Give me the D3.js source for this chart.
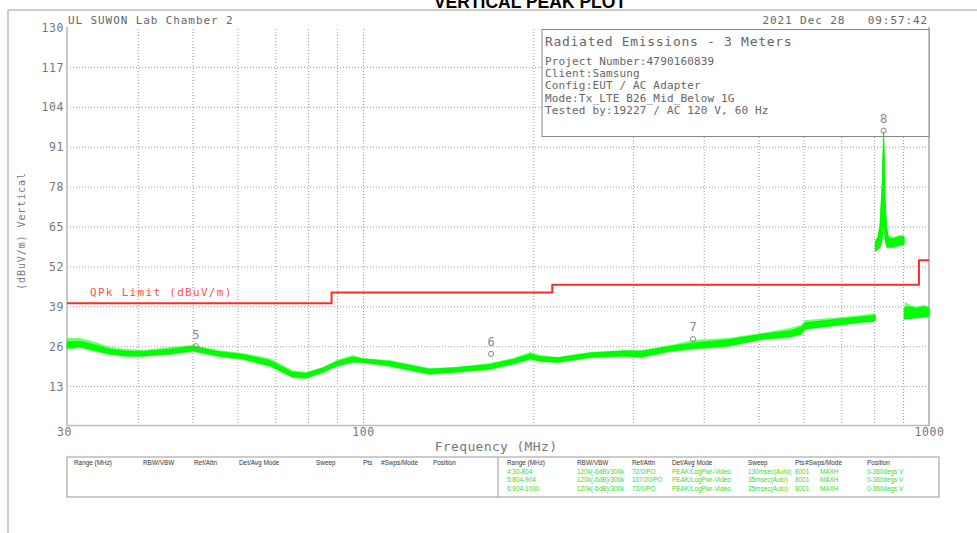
<!DOCTYPE html>
<html><head><meta charset="utf-8">
<script src="https://cdn.jsdelivr.net/npm/d3@7"></script>
<style>
body{margin:0;background:#fff;}
svg{display:block;}
.mono{font-family:"DejaVu Sans Mono","Liberation Mono",monospace;}
.tiny{font-family:"Liberation Sans",Arial,sans-serif;font-size:8px;}
</style></head><body>
<svg id="chart" width="977" height="533"></svg>
<script>
// ---------------- data ----------------
const chartTitle = "VERTICAL PEAK PLOT";
const siteLabel = "UL SUWON Lab Chamber 2";
const dateLabel = "2021 Dec 28   09:57:42";
const infoTitle = "Radiated Emissions - 3 Meters";
const infoLines = ["Project Number:4790160839","Client:Samsung","Config:EUT / AC Adapter","Mode:Tx_LTE B26_Mid_Below 1G","Tested by:19227 / AC 120 V, 60 Hz"];
const yTicks = [13,26,39,52,65,78,91,104,117,130];
const xTickLabels = [30,100,1000];
const xGrid = [40,50,60,70,80,90,100,200,300,400,500,600,700,800,900];
const yLabel = "(dBuV/m) Vertical";
const xLabel = "Frequency (MHz)";
const limitLabel = "QPk Limit (dBuV/m)";
const limitStart = [30,88,216,960];
const limitEnd = [88,216,960,1000];
const limitLevel = [40,43.5,46,54];

// trace: core band (lo/hi) and noise-spike extent (spLo/spHi), three sweep ranges
const seg4Freq = [30,31.6,33.7,35.7,38,40.8,45.6,50.1,55.3,61.2,68.5,75.1,79.4,85,89.9,95.9,100,111.5,131,146,167.5,184,197.5,205.7,221,252,289,310,350,383,442,506,569,594,605,669,764,804];
const seg4Lo   = [25.4,25.8,24.6,23.5,22.9,22.9,23.5,24.5,22.9,21.9,19.7,16.0,15.7,17.6,19.6,20.9,20.8,19.6,17.0,17.6,18.6,20.3,21.9,21.2,20.8,22.4,22.9,22.5,24.5,25.3,26.1,28.3,29.1,30.0,31.7,32.6,33.9,34.2];
const seg4Hi   = [27.4,27.6,26.3,25.0,24.4,24.3,25.0,26.0,24.3,23.3,21.3,17.5,17.2,18.9,21.0,22.4,21.9,21.0,18.5,19.0,20.0,21.7,23.4,22.6,22.2,23.8,24.4,24.3,26.0,27.0,28.1,29.9,31.0,32.2,33.6,34.5,35.6,36.0];
const seg4SpLo = [24.8,25.4,24.1,23.1,22.5,22.5,23.1,24.1,22.5,21.5,19.2,15.6,15.3,17.3,19.2,20.5,20.5,19.2,16.6,17.3,18.2,19.9,21.5,20.8,20.5,22.1,22.5,22.1,24.1,24.8,25.7,28.0,28.7,29.7,31.3,32.3,33.6,33.9];
const seg4SpHi = [28.7,28.7,27.4,25.7,25.1,24.8,25.7,26.4,24.8,23.8,22.1,18.2,17.6,19.2,21.5,23.1,22.1,21.5,18.9,19.2,20.5,22.1,24.1,23.1,22.5,24.1,24.8,24.8,26.4,28.0,28.7,30.3,31.9,32.9,34.5,35.2,36.2,36.8];
const seg5Freq = [804,812,819,826,829,831.5,834,837,842,848,866,884,904];
const seg5Lo   = [57.0,57.6,58.3,60.3,64,66,64,60.3,58.3,58.3,58.3,58.9,59.3];
const seg5Hi   = [60.0,61.4,65.0,78,88,95.8,88,73,64.5,61.3,61.0,61.6,61.6];
const seg5SpLo = [56.7,57.3,58.0,60.0,64,66,64,60,58,58,58,58.6,59];
const seg5SpHi = [60.6,62.2,66.4,80,90,95.8,90,75,66,62,61.6,62.2,62.2];
const seg6Freq = [904,908,925,950,975,1000];
const seg6Lo   = [34.9,35.0,35.1,35.3,35.5,35.8];
const seg6Hi   = [38.0,38.6,38.8,38.3,38.8,38.5];
const seg6SpLo = [34.5,34.6,34.8,35.0,35.2,35.5];
const seg6SpHi = [38.5,40.4,39.4,38.8,39.4,39.0];

const markerIds = ["5","6","7","8"];
const markerFreq = [50.7,168.4,383,831.5];
const markerLevel = [26.0,23.5,28.3,96.2];

const tableHeaders = ["Range (MHz)","RBW/VBW","Ref/Attn","Det/Avg Mode","Sweep","Pts","#Swps/Mode","Position"];
const rowRange = ["4:30-804","5:804-904","6:904-1000"];
const rowRbw = ["120k(-6dB)/300k","120k(-6dB)/300k","120k(-6dB)/300k"];
const rowRef = ["72/0/PO","107/20/PO","72/0/PO"];
const rowDet = ["PEAK/LogPwr-Video","PEAK/LogPwr-Video","PEAK/LogPwr-Video"];
const rowSweep = ["130msec(Auto)","35msec(Auto)","35msec(Auto)"];
const rowPts = ["8001","8001","8001"];
const rowSwps = ["MAXH","MAXH","MAXH"];
const rowPos = ["0-360degs V","0-360degs V","0-360degs V"];

// ---------------- layout ----------------
const L = 67, R = 929, T = 27, B = 426;
const svg = d3.select("#chart");
const x = d3.scaleLog().domain([30,1000]).range([L,R]);
const y = d3.scaleLinear().domain([0,130]).range([B,T]);
const grey = "#777";

// outer frame
svg.append("line").attr("x1",8).attr("y1",10).attr("x2",977).attr("y2",10).attr("stroke","#999").attr("stroke-width",1);
svg.append("line").attr("x1",8).attr("y1",10).attr("x2",8).attr("y2",533).attr("stroke","#999").attr("stroke-width",1);

// title (partly cut at top, as in the original)
svg.append("text").attr("x",530).attr("y",7.5).attr("text-anchor","middle")
  .style("font-family","'Liberation Sans',Arial,sans-serif").style("font-weight","bold").style("font-size","17.5px")
  .attr("fill","#000").text(chartTitle);

// grids
const gy = svg.append("g").attr("transform",`translate(${L},0)`)
  .call(d3.axisLeft(y).tickValues(yTicks.filter(d=>d<130)).tickSize(-(R-L)).tickFormat(""));
gy.select(".domain").remove();
gy.selectAll("line").attr("stroke","#999").attr("stroke-width",1).attr("stroke-dasharray","1,2");
const gx = svg.append("g").attr("transform",`translate(0,${B})`)
  .call(d3.axisBottom(x).tickValues(xGrid).tickSize(-(B-T)).tickFormat(""));
gx.select(".domain").remove();
gx.selectAll("line").attr("stroke","#999").attr("stroke-width",1).attr("stroke-dasharray","1,2");

// borders
svg.append("line").attr("x1",L).attr("y1",T).attr("x2",L).attr("y2",B).attr("stroke","#c8c8c8").attr("stroke-width",2);
svg.append("line").attr("x1",L).attr("y1",B-0.5).attr("x2",R).attr("y2",B-0.5).attr("stroke","#bbb").attr("stroke-width",1.5);
svg.append("line").attr("x1",R).attr("y1",T).attr("x2",R).attr("y2",B).attr("stroke","#aaa").attr("stroke-width",1.5);

// y axis labels
const ya = svg.append("g").attr("transform",`translate(${L-3},0)`)
  .call(d3.axisLeft(y).tickValues(yTicks).tickSize(0).tickPadding(0).tickFormat(d3.format("d")));
ya.select(".domain").remove();
ya.selectAll("text").attr("class","mono").style("font-size","11.5px").style("letter-spacing","0.6px").attr("fill",grey).attr("dy","0.36em");

// x axis labels
const xa = svg.append("g").attr("transform",`translate(0,${B})`)
  .call(d3.axisBottom(x).tickValues(xTickLabels).tickSize(0).tickFormat(d3.format("d")));
xa.select(".domain").remove();
xa.selectAll("text").attr("class","mono").style("font-size","11.5px").style("letter-spacing","0.6px").attr("fill",grey)
  .attr("y",6).attr("dy","0.36em").attr("dx",d=>d===30?-3:0);

// header texts
svg.append("text").attr("class","mono").attr("x",68).attr("y",24).style("font-size","11px").style("letter-spacing","0.9px").attr("fill","#666").text(siteLabel);
svg.append("text").attr("class","mono").attr("x",928).attr("y",24).attr("text-anchor","end").style("font-size","11px").style("letter-spacing","0.9px").style("white-space","pre").attr("fill","#666").text(dateLabel);

// axis titles
svg.append("text").attr("class","mono").attr("transform","translate(21,231) rotate(-90)").attr("text-anchor","middle")
  .attr("dy","0.35em").style("font-size","10px").style("letter-spacing","0.9px").attr("fill",grey).text(yLabel);
svg.append("text").attr("class","mono").attr("x",496).attr("y",451).attr("text-anchor","middle")
  .style("font-size","13px").style("letter-spacing","0.35px").attr("fill",grey).text(xLabel);

// info box
svg.append("rect").attr("x",542).attr("y",29.5).attr("width",R-542).attr("height",107).attr("fill","#fff").attr("stroke","#888").attr("stroke-width",1);
svg.append("text").attr("class","mono").attr("x",545).attr("y",46).style("font-size","13px").style("letter-spacing","0.7px").attr("fill","#666").text(infoTitle);
svg.selectAll(".info").data(infoLines).enter().append("text").attr("class","mono info")
  .attr("x",545).attr("y",(d,i)=>65+i*12.2).style("font-size","11px").style("letter-spacing","0.15px").attr("fill","#666").text(d=>d);

// limit line
const limitPts = [];
limitStart.forEach((s,i)=>{ limitPts.push([s,limitLevel[i]]); limitPts.push([limitEnd[i],limitLevel[i]]); });
svg.append("path").datum(limitPts).attr("fill","none").attr("stroke","#ff2a2a").attr("stroke-width",2)
  .attr("d",d3.line().x(d=>x(d[0])).y(d=>y(d[1])));
svg.append("text").attr("class","mono").attr("x",90).attr("y",296).style("font-size","11px").style("letter-spacing","1.3px")
  .attr("fill","#ff5050").text(limitLabel);

// trace
const segs = [
  [seg4Freq,seg4Lo,seg4Hi,seg4SpLo,seg4SpHi],
  [seg5Freq,seg5Lo,seg5Hi,seg5SpLo,seg5SpHi],
  [seg6Freq,seg6Lo,seg6Hi,seg6SpLo,seg6SpHi]];
const area = d3.area().x(d=>x(d.f)).y0(d=>y(d.lo)).y1(d=>y(d.hi));
segs.forEach(([f,lo,hi,slo,shi])=>{
  const sp = f.map((v,i)=>({f:v,lo:slo[i],hi:shi[i]}));
  const core = f.map((v,i)=>({f:v,lo:lo[i],hi:hi[i]}));
  svg.append("path").datum(sp).attr("fill","#33ff33").attr("fill-opacity",0.7).attr("d",area);
  svg.append("path").datum(core).attr("fill","#00ff00").attr("stroke","#00f000").attr("stroke-width",0.8).attr("d",area);
});

// markers
markerIds.forEach((id,i)=>{
  const cx = x(markerFreq[i]), cy = y(markerLevel[i]);
  svg.append("circle").attr("cx",cx).attr("cy",cy).attr("r",2.6).attr("fill","none").attr("stroke","#888").attr("stroke-width",1);
  svg.append("text").attr("class","mono").attr("x",cx).attr("y",cy-12).attr("dy","0.36em").attr("text-anchor","middle")
    .style("font-size","12px").attr("fill","#888").text(id);
});

// settings table
const tY = 457, tH = 40, tMid = 498, tRight = 939;
svg.append("rect").attr("x",L).attr("y",tY).attr("width",tRight-L).attr("height",tH).attr("fill","none").attr("stroke","#999").attr("stroke-width",1);
svg.append("line").attr("x1",tMid).attr("y1",tY).attr("x2",tMid).attr("y2",tY+tH).attr("stroke","#999").attr("stroke-width",1);
function tiny(tx,ty,txt,col){
  svg.append("text").attr("class","tiny").attr("transform",`translate(${tx},${ty}) scale(0.8,1)`).attr("fill",col).text(txt);
}
const leftCols = [74,143,194,239,316,363,381,433];
const rightCols = [507,577,632,672,748,795,805,867];
[leftCols,rightCols].forEach(cols=>{
  tableHeaders.forEach((h,i)=>tiny(cols[i],465,h,"#333"));
});
const rowCols = [[rowRange,507],[rowRbw,577],[rowRef,632],[rowDet,672],[rowSweep,748],[rowPts,795],[rowSwps,820],[rowPos,867]];
rowCols.forEach(([arr,cx])=>{
  arr.forEach((v,r)=>tiny(cx,473.5+r*8.5,v,"#2fe02f"));
});
</script>
</body></html>
